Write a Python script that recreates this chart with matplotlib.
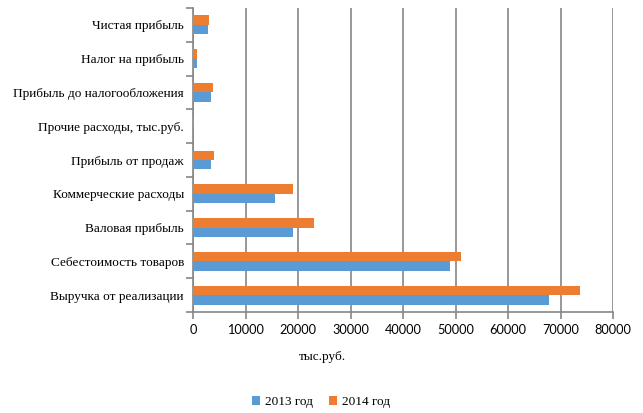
import matplotlib
matplotlib.use("Agg")
import matplotlib.pyplot as plt
import numpy as np

categories = ["Выручка от реализации", "Себестоимость товаров", "Валовая прибыль",
              "Коммерческие расходы", "Прибыль от продаж", "Прочие расходы, тыс.руб.",
              "Прибыль до налогообложения", "Налог на прибыль", "Чистая прибыль"]
values_2013 = [67900, 48900, 19000, 15600, 3400, 100, 3400, 700, 2850]
values_2014 = [73800, 51000, 23000, 19000, 4000, 100, 3800, 700, 3000]
x_ticks = [0, 10000, 20000, 30000, 40000, 50000, 60000, 70000, 80000]

plt.rcParams['font.family'] = ['Liberation Serif', 'DejaVu Serif']
plt.rcParams['font.size'] = 9.5

fig = plt.figure(figsize=(6.43, 4.13), dpi=100)
ax = fig.add_axes([193 / 643, 1 - 312 / 413, 420 / 643, 304 / 413])

y = np.arange(len(categories))
h = 0.28
ax.barh(y - h / 2, values_2013, height=h, color="#5b9bd5", label="2013 год", zorder=3)
ax.barh(y + h / 2, values_2014, height=h, color="#ed7d31", label="2014 год", zorder=3)

ax.set_xlim(0, 80000)
ax.set_ylim(-0.5, len(categories) - 0.5)
ax.set_xticks(x_ticks)
ax.set_xticklabels([str(t) for t in x_ticks], family=['Lato', 'DejaVu Sans'], fontsize=9.2)
ax.set_yticks(y)
ax.set_yticklabels(categories)
ax.set_yticks(np.arange(-0.5, len(categories)), minor=True)
ax.tick_params(axis='y', which='major', length=0, pad=6.5)
ax.tick_params(axis='y', which='minor', length=5, color="#868686", width=1.2)
ax.tick_params(axis='x', length=5, color="#868686", width=1.2, pad=4)

ax.grid(axis='x', color="#868686", linewidth=1.2, zorder=0)
for s in ['top', 'right']:
    ax.spines[s].set_visible(False)
for s in ['left', 'bottom']:
    ax.spines[s].set_color("#868686")
    ax.spines[s].set_linewidth(1.2)

fig.text(322 / 643, 1 - 357 / 413, "тыс.руб.", ha='center', va='center')
fig.legend(loc='center', bbox_to_anchor=(321 / 643, 1 - 402 / 413), ncol=2, frameon=False,
           handlelength=0.6, handleheight=0.6, columnspacing=1.2, handletextpad=0.4)

fig.savefig("out.png", dpi=100)
